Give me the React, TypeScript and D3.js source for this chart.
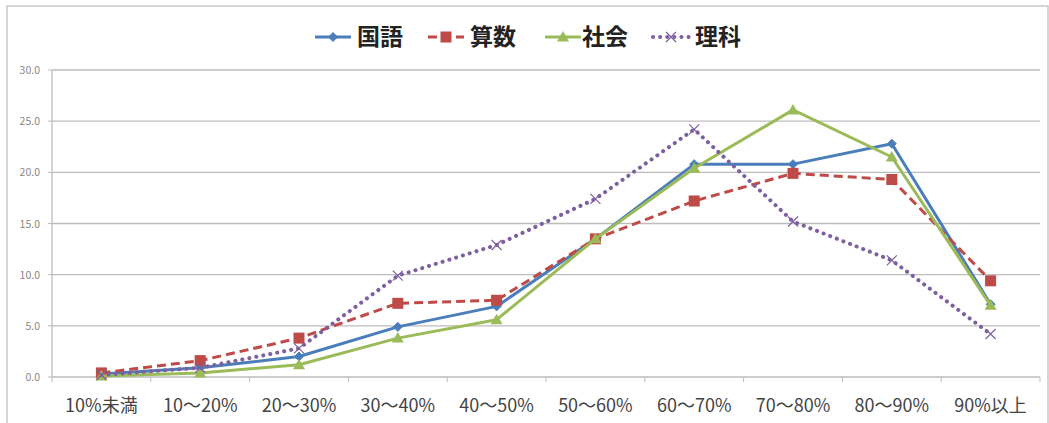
import React from "react";
import * as d3 from "d3";

const categories = ["10%未満", "10～20%", "20～30%", "30～40%", "40～50%", "50～60%", "60～70%", "70～80%", "80～90%", "90%以上"];
const kokugo = [0.3, 0.9, 2.0, 4.9, 6.9, 13.5, 20.8, 20.8, 22.8, 7.1];
const sansu = [0.4, 1.6, 3.8, 7.2, 7.5, 13.5, 17.2, 19.9, 19.3, 9.4];
const shakai = [0.1, 0.4, 1.2, 3.8, 5.6, 13.5, 20.4, 26.1, 21.5, 7.0];
const rika = [0.2, 0.9, 2.8, 9.9, 12.9, 17.4, 24.2, 15.2, 11.4, 4.2];
const yTicks = [0, 5, 10, 15, 20, 25, 30];
const seriesNames = ["国語", "算数", "社会", "理科"];

const seriesList = [
  { name: seriesNames[0], values: kokugo, color: "#4a7ebb", dash: "", marker: "diamond" },
  { name: seriesNames[1], values: sansu, color: "#be4b48", dash: "9,5", marker: "square" },
  { name: seriesNames[2], values: shakai, color: "#9bbb59", dash: "", marker: "triangle" },
  { name: seriesNames[3], values: rika, color: "#7d60a0", dash: "0.1,7", marker: "x" },
];

const FONT = "'Noto Sans CJK JP', 'Noto Sans', sans-serif";

function Marker({ type, x, y, color }: { type: string; x: number; y: number; color: string }) {
  if (type === "diamond") {
    return <path d={`M${x},${y - 4.5}L${x + 4.5},${y}L${x},${y + 4.5}L${x - 4.5},${y}Z`} fill={color} stroke={color} />;
  }
  if (type === "square") {
    return <rect x={x - 5.5} y={y - 5.5} width={11} height={11} fill={color} />;
  }
  if (type === "triangle") {
    return <path d={`M${x},${y - 6}L${x + 6},${y + 4.5}L${x - 6},${y + 4.5}Z`} fill={color} />;
  }
  return (
    <path d={`M${x - 5},${y - 5}L${x + 5},${y + 5}M${x + 5},${y - 5}L${x - 5},${y + 5}`} stroke={color} strokeWidth={1.2} fill="none" />
  );
}

export default function App() {
  const W = 1049, H = 423;
  const left = 52, right = 1040, top = 70, bottom = 377;
  const x = d3.scaleBand().domain(categories).range([left, right]);
  const y = d3.scaleLinear().domain([0, 30]).range([bottom, top]);
  const cx = (c: string) => (x(c) as number) + x.bandwidth() / 2;
  const line = d3.line<number>().x((_, i) => cx(categories[i])).y((v) => y(v));

  const legendLineX = [315, 428, 545, 653];
  const legendTextX = [357, 470, 582, 695];

  return (
    <svg width={W} height={H} style={{ position: "absolute", left: 0, top: 0 }}>
      <rect x={0} y={0} width={W} height={H} fill="#fff" />
      <rect x={7} y={6} width={1041} height={430} fill="#fff" stroke="#c8c8c8" strokeWidth={1.5} />
      {yTicks.map((t) => (
        <g key={t}>
          <line x1={left} x2={right} y1={y(t)} y2={y(t)} stroke="#bdbdbd" strokeWidth={1.3} />
          <line x1={left - 4} x2={left} y1={y(t)} y2={y(t)} stroke="#bdbdbd" />
          <text x={40} y={y(t) + 4} textAnchor="end" fontSize={10.5} fill="#888" fontFamily={FONT}>
            {t.toFixed(1)}
          </text>
        </g>
      ))}
      <line x1={left} x2={left} y1={top} y2={bottom} stroke="#bdbdbd" strokeWidth={1.3} />
      {categories.concat([""]).map((c, i) => {
        const xx = left + i * x.bandwidth();
        return <line key={i} x1={xx} x2={xx} y1={bottom} y2={bottom + 5} stroke="#bdbdbd" />;
      })}
      {categories.map((c) => (
        <text key={c} x={cx(c)} y={412} textAnchor="middle" fontSize={18} fill="#444" fontFamily={FONT}>
          {c}
        </text>
      ))}
      {seriesList.map((s) => (
        <g key={s.name}>
          <path
            d={line(s.values) || ""}
            fill="none"
            stroke={s.color}
            strokeWidth={s.marker === "x" ? 4 : 3}
            strokeDasharray={s.dash}
            strokeLinecap={s.marker === "x" ? "round" : "butt"}
            strokeLinejoin="round"
          />
          {s.values.map((v, i) => (
            <Marker key={i} type={s.marker} x={cx(categories[i])} y={y(v)} color={s.color} />
          ))}
        </g>
      ))}
      {seriesList.map((s, i) => {
        const lx = legendLineX[i];
        const ly = 37;
        return (
          <g key={s.name}>
            <line x1={lx} x2={lx + 36} y1={ly} y2={ly} stroke={s.color} strokeWidth={s.marker === "x" ? 4 : 3}
              strokeDasharray={s.dash} strokeLinecap={s.marker === "x" ? "round" : "butt"} />
            <Marker type={s.marker} x={lx + 18} y={ly} color={s.color} />
            <text x={legendTextX[i]} y={ly + 8} fontSize={23} fontWeight="bold" fill="#222" fontFamily={FONT}>
              {s.name}
            </text>
          </g>
        );
      })}
    </svg>
  );
}
